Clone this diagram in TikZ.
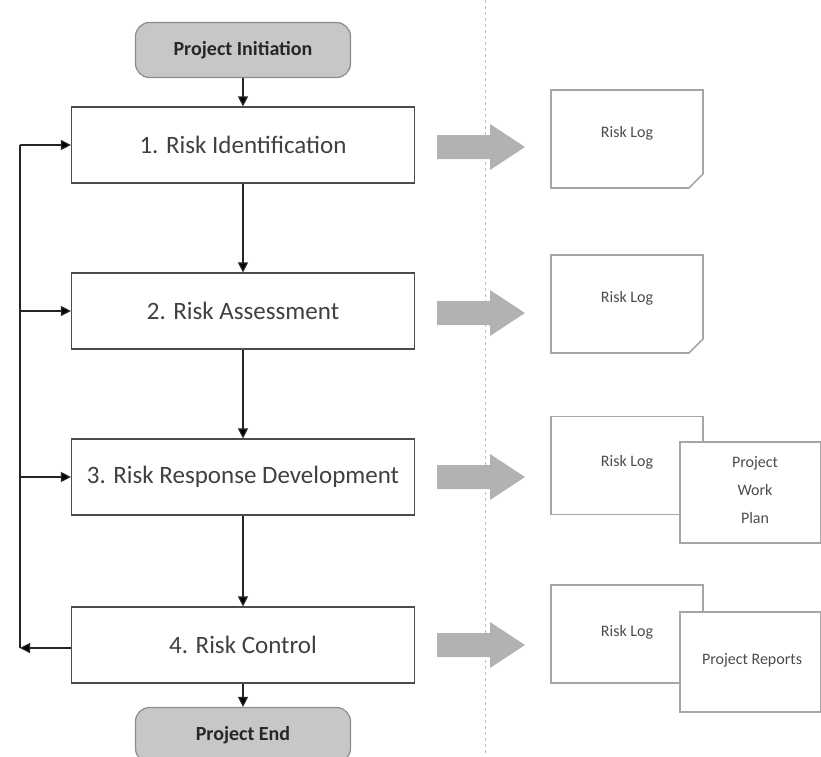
\documentclass[tikz,border=0pt]{standalone}
\usepackage{fontspec}
\setmainfont{Carlito}
\usetikzlibrary{arrows.meta}
\begin{document}
\begin{tikzpicture}[x=1pt,y=-1pt,>={Triangle[length=10pt,width=10pt,fill=black]},line width=1.2pt,
	term/.style={rounded corners=14pt,fill=black!22,draw=black!45,minimum width=215pt,minimum height=55pt,font=\fontsize{20}{22}\selectfont\bfseries,text=black!85},
	stage/.style={draw=black!70,fill=white,minimum width=343pt,minimum height=76pt,font=\fontsize{25}{28}\selectfont,text=black!75},
	doc/.style={draw=black!35,line width=1.6pt,fill=white,minimum width=152pt,minimum height=98pt},
	doctext/.style={font=\fontsize{16}{28}\selectfont,text=black!70,align=center},
	flow/.style={->,black!85}]
			\useasboundingbox (0,0) rectangle (821,756);
			\draw[black!25,line width=0.8pt,dash pattern=on 3pt off 3pt] (485,0)--(485,756);
			% flow chart
			\node[term] (start) at (243,50) {Project Initiation};
			\node[stage] (s1) at (243,145) {1. Risk Identification};
			\node[stage] (s2) at (243,311) {2. Risk Assessment};
			\node[stage] (s3) at (243,477) {3. Risk Response Development};
			\node[stage] (s4) at (243,645) {4. Risk Control};
			\node[term] (end) at (243,735) {Project End};
			\draw[flow] (start)--(s1);
			\draw[flow] (s1)--(s2);
			\draw[flow] (s2)--(s3);
			\draw[flow] (s3)--(s4);
			\draw[flow] (s4)--(end);
			% feedback loop
			\coordinate (back) at (20,648);
			\coordinate (top) at (20,145);
			\draw[flow] ([yshift=-3pt]s4.west)--(back);
			\draw[black!85] (back)--(top);
			\foreach \s in {s1,s2,s3}\draw[flow] (top |- \s.west)--(\s.west);
			% block arrows
			\foreach \y in {147,313,477,645}\fill[black!30] (437,\y-12)--(490,\y-12)--(490,\y-23)--(525,\y)--(490,\y+23)--(490,\y+12)--(437,\y+12)--cycle;
			% outputs
			\foreach \y in {90,255}\draw[black!35,line width=1.6pt,fill=white] (551,\y)--(703,\y)--(703,\y+84)--(689,\y+98)--(551,\y+98)--cycle;
			\node[doctext] (log1) at (627,133) {Risk Log};
			\node[doctext] (log2) at (627,298) {Risk Log};
			\node[doc] (d3) at (627,465.5) {};
			\node[doc,minimum width=141pt,minimum height=101pt] (p3) at (750.5,492.5) {};
			\node[doctext] (log3) at (627,462) {Risk Log};
			\node[doctext] (plan) at (755,490) {Project\\Work\\Plan};
			\node[doc] (d4) at (627,634) {};
			\node[doc,minimum width=141pt,minimum height=100pt] (p4) at (750.5,662) {};
			\node[doctext] (log4) at (627,632) {Risk Log};
			\node[doctext] (rep) at (752,660) {Project Reports};
	\end{tikzpicture}
\end{document}
